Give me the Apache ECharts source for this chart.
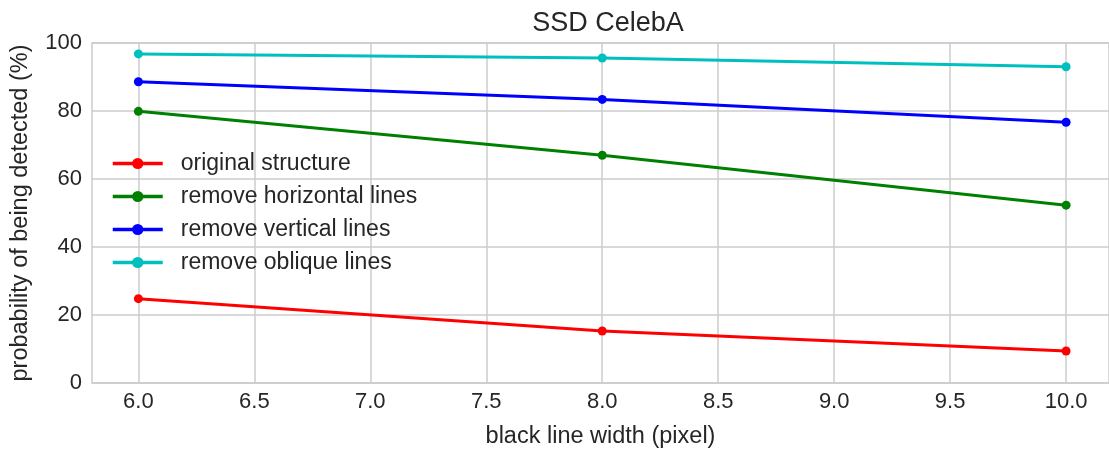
<!DOCTYPE html>
<html>
<head>
<meta charset="utf-8">
<script src="https://cdn.jsdelivr.net/npm/echarts@6/dist/echarts.min.js"></script>
<style>
  html, body { margin: 0; padding: 0; background: #fff; }
  #chart { width: 1109px; height: 450px; }
</style>
</head>
<body>
<div id="chart"></div>
<script>
var widths = [6.0, 8.0, 10.0];
var xTicks = [6.0, 6.5, 7.0, 7.5, 8.0, 8.5, 9.0, 9.5, 10.0];
var original = [24.8, 15.3, 9.4];
var noHorizontal = [79.9, 67.0, 52.3];
var noVertical = [88.6, 83.4, 76.7];
var noOblique = [96.8, 95.6, 93.0];

var names = ["original structure", "remove horizontal lines", "remove vertical lines", "remove oblique lines"];
var colors = ["#ff0000", "#008000", "#0000ff", "#00bfbf"];
var values = [original, noHorizontal, noVertical, noOblique];

var font = "Liberation Sans, Arial, sans-serif";
var textColor = "#262626";

var chart = echarts.init(document.getElementById("chart"));

var series = [];
for (let i = 0; i < names.length; i++) {
  series.push({
    name: names[i],
    type: "line",
    data: widths.map(function (w, j) { return [w, values[i][j]]; }),
    symbol: "circle",
    symbolSize: 9,
    lineStyle: { width: 3, color: colors[i] },
    itemStyle: { color: colors[i] },
    emphasis: { disabled: true }
  });
}

chart.setOption({
  animation: false,
  title: {
    text: "SSD CelebA",
    left: 603,
    textAlign: "center",
    top: 5,
    textStyle: { color: textColor, fontFamily: font, fontWeight: "normal", fontSize: 27 }
  },
  legend: {
    orient: "vertical",
    left: 106,
    top: 147,
    itemWidth: 50,
    itemHeight: 14,
    itemGap: 10,
    data: names,
    lineStyle: { width: 3.5 },
    textStyle: { color: textColor, fontFamily: font, fontSize: 23, lineHeight: 23, padding: [0, 0, 0, 13] }
  },
  grid: {
    left: 92,
    right: 0,
    top: 43,
    bottom: 67,
    show: true,
    borderColor: "#cccccc",
    borderWidth: 1.5,
    containLabel: false,
    outerBoundsMode: "none"
  },
  xAxis: {
    type: "value",
    min: 5.8,
    max: 10.185,
    name: "black line width (pixel)",
    nameLocation: "middle",
    nameGap: 42,
    nameTextStyle: { color: textColor, fontFamily: font, fontSize: 23.5 },
    axisLine: { show: false },
    axisTick: { show: false, customValues: xTicks },
    axisLabel: {
      customValues: xTicks,
      color: textColor, fontFamily: font, fontSize: 22, margin: 8,
      formatter: function (v) { return v.toFixed(1); }
    },
    splitLine: { show: true, lineStyle: { color: "#cccccc", width: 1.5 } }
  },
  yAxis: {
    type: "value",
    min: 0,
    max: 100,
    interval: 20,
    name: "probability of being detected (%)",
    nameLocation: "middle",
    nameGap: 59,
    nameTextStyle: { color: textColor, fontFamily: font, fontSize: 23.5 },
    axisLine: { show: false },
    axisTick: { show: false },
    axisLabel: { color: textColor, fontFamily: font, fontSize: 22, margin: 10 },
    splitLine: { show: true, lineStyle: { color: "#cccccc", width: 1.5 } }
  },
  series: series
});
</script>
</body>
</html>
